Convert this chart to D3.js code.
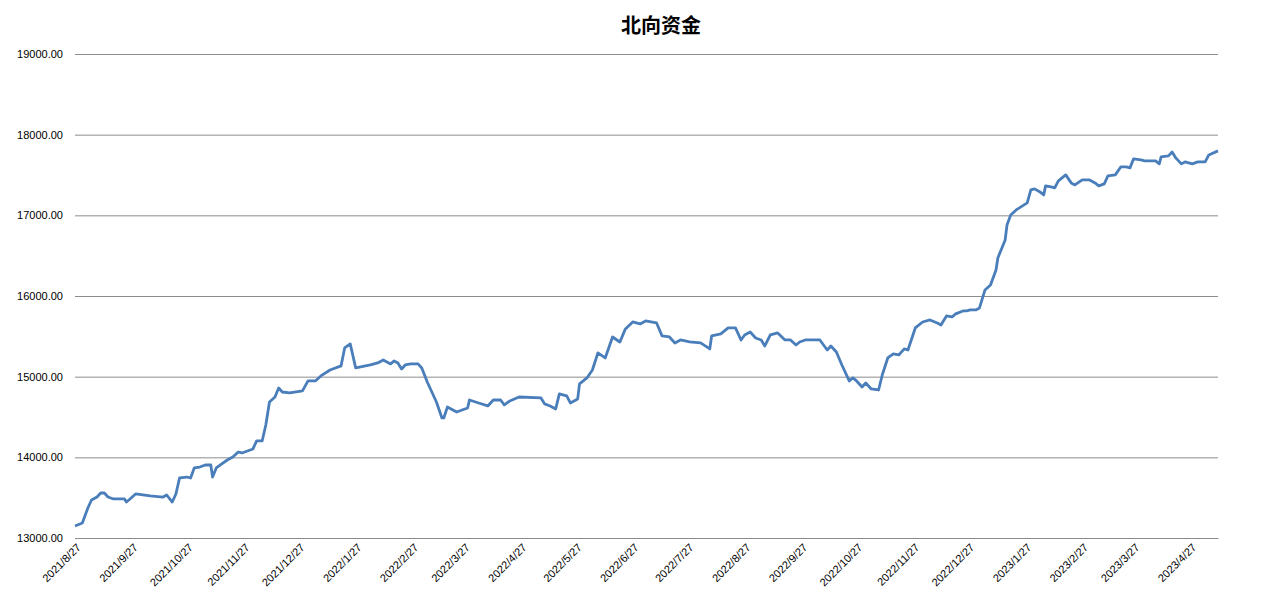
<!DOCTYPE html>
<html><head><meta charset="utf-8">
<script src="https://cdn.jsdelivr.net/npm/d3@7"></script>
<style>body{margin:0;background:#fff}</style>
</head><body><div id="chart"></div>
<script>
// days since 2021/8/27
const dayOffsets = [0,4,7,9,12,14,16,18,21,27,28,30,33,41,48,50,53,55,57,61,63,65,68,71,74,75,77,80,83,86,89,91,94,97,99,102,104,106,109,111,113,117,124,127,131,134,139,145,147,150,153,161,165,168,172,174,176,178,180,183,187,189,192,197,200,201,203,206,208,211,214,215,220,225,228,232,234,237,242,254,256,259,262,264,268,270,274,275,279,282,285,289,293,297,300,304,308,311,317,320,324,327,330,335,341,346,347,352,356,360,363,365,368,371,374,376,379,383,387,390,393,395,398,406,410,412,415,418,422,424,426,429,431,434,438,440,443,446,449,452,454,458,462,466,470,472,475,478,480,484,486,488,491,493,496,499,502,503,507,508,510,513,519,521,523,526,528,529,532,534,536,540,543,545,549,553,556,558,561,563,567,570,573,575,577,581,583,589,591,592,596,598,600,603,605,609,612,616,618,623];
const values = [13149,13186,13372,13471,13508,13558,13558,13508,13484,13484,13446,13484,13546,13521,13508,13533,13446,13546,13744,13756,13744,13868,13880,13905,13905,13756,13868,13918,13967,14004,14066,14054,14079,14104,14203,14203,14401,14686,14748,14860,14810,14798,14823,14947,14947,15009,15083,15133,15356,15406,15108,15145,15170,15207,15158,15195,15170,15096,15145,15158,15158,15108,14934,14686,14488,14488,14624,14587,14562,14587,14612,14711,14674,14637,14711,14711,14649,14699,14748,14736,14662,14637,14600,14786,14761,14674,14724,14910,14984,15083,15294,15232,15492,15430,15592,15678,15654,15691,15666,15505,15492,15418,15455,15430,15418,15344,15505,15530,15604,15604,15455,15517,15554,15480,15455,15381,15517,15542,15455,15455,15393,15430,15455,15455,15331,15381,15306,15145,14947,14984,14947,14872,14922,14848,14835,15021,15232,15282,15269,15344,15331,15604,15678,15703,15666,15641,15753,15740,15778,15815,15815,15827,15827,15852,16075,16137,16323,16472,16695,16881,17005,17067,17154,17315,17328,17290,17253,17365,17352,17340,17427,17501,17402,17377,17439,17439,17402,17365,17390,17489,17501,17600,17600,17588,17700,17687,17675,17675,17638,17724,17737,17786,17712,17638,17662,17638,17662,17662,17749,17799];
const yTicks = [13000,14000,15000,16000,17000,18000,19000];
const startDate = new Date(2021, 7, 27);
const xTickDates = d3.range(0, 21).map(i => new Date(2021, 7 + i, 27));

const width = 1261, height = 605;
const margin = {left: 75, right: 43, top: 54, bottom: 67};

const svg = d3.select("#chart").append("svg")
  .attr("width", width).attr("height", height)
  .style("font-family", "'Noto Sans CJK SC', 'Liberation Sans', sans-serif");

const data = dayOffsets.map((d, i) => ({date: d3.timeDay.offset(startDate, d), value: values[i]}));

const x = d3.scaleTime()
  .domain([startDate, d3.timeDay.offset(startDate, 623)])
  .range([margin.left, width - margin.right]);
const y = d3.scaleLinear().domain([13000, 19000]).range([height - margin.bottom, margin.top]);

svg.append("text").attr("x", 661).attr("y", 33).attr("text-anchor", "middle")
  .style("font-size", "20px").style("font-weight", "bold").text("北向资金");

const yAxis = svg.append("g").attr("transform", `translate(${margin.left},0)`)
  .call(d3.axisLeft(y).tickValues(yTicks).tickFormat(d3.format(".2f"))
    .tickSize(-(width - margin.left - margin.right)).tickPadding(12));
yAxis.select(".domain").remove();
yAxis.selectAll("line").attr("stroke", "#8c8c8c");
yAxis.selectAll("text").style("font-size", "11px").attr("fill", "#000")
  .style("font-family", "'Liberation Sans', sans-serif");

const xAxis = svg.append("g").attr("transform", `translate(0,${height - margin.bottom})`)
  .call(d3.axisBottom(x).tickValues(xTickDates).tickSize(0)
    .tickFormat(d => `${d.getFullYear()}/${d.getMonth() + 1}/${d.getDate()}`));
xAxis.select(".domain").attr("stroke", "#8c8c8c");
xAxis.selectAll("text").style("font-size", "11px").attr("fill", "#000")
  .style("font-family", "'Liberation Sans', sans-serif")
  .attr("text-anchor", "end").attr("dy", 0)
  .attr("transform", "translate(4,8) rotate(-45)");

svg.append("path").datum(data)
  .attr("fill", "none").attr("stroke", "#4a7ebb").attr("stroke-width", 2.8)
  .attr("stroke-linejoin", "round")
  .attr("d", d3.line().x(d => x(d.date)).y(d => y(d.value)));
</script></body></html>
